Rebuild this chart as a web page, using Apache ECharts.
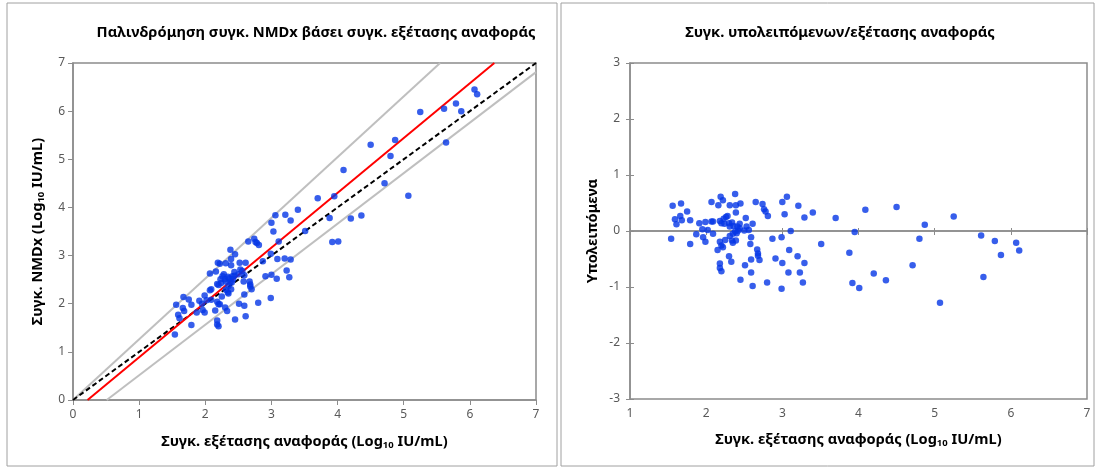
<!DOCTYPE html>
<html>
<head>
<meta charset="utf-8">
<script src="https://cdn.jsdelivr.net/npm/echarts@6/dist/echarts.min.js"></script>
<style>
html,body{margin:0;padding:0;background:#fff;}
#c{width:1096px;height:469px;}
</style>
</head>
<body>
<div id="c"></div>
<script>
// Reference assay concentration (log10 IU/mL)
const refX = [1.54,1.56,1.67,1.59,1.61,1.66,1.68,1.75,1.79,1.79,1.87,1.91,1.95,1.96,1.99,1.99,2.07,2.09,2.09,2.15,2.16,2.19,2.22,2.18,2.23,2.26,2.28,
  2.18,2.20,2.22,2.25,2.30,2.33,2.18,2.18,2.20,2.31,2.38,2.39,2.45,2.39,2.34,2.39,2.35,2.40,2.44,2.52,2.53,2.56,2.59,2.58,2.61,2.65,2.74,2.76,2.78,2.81,
  2.67,2.68,2.68,2.70,2.59,2.51,2.59,2.45,2.61,2.80,2.87,2.99,2.99,2.91,3.00,3.06,3.03,3.11,3.09,3.00,3.20,3.21,3.29,3.29,3.23,3.08,3.27,3.40,3.51,3.70,
  4.09,4.50,3.95,3.88,3.92,4.01,4.20,4.36,4.71,4.80,4.87,5.07,5.25,5.61,5.64,5.79,5.87,6.07,6.11,
  2.02,2.07,2.20,2.24,2.30,2.34,2.31,2.36,2.41,2.42,2.38,2.35,2.31,2.50,2.44];
// NMDx concentration (log10 IU/mL)
const nmdx = [1.36,1.98,2.14,1.77,1.70,1.91,1.85,2.09,1.98,1.56,1.82,2.06,2.00,1.87,2.17,1.82,2.63,2.30,2.08,1.86,2.67,2.85,2.83,2.41,2.51,2.57,2.61,
  2.04,1.99,1.99,2.15,1.92,1.85,1.65,1.57,1.53,2.84,3.12,2.93,3.03,2.80,2.24,2.30,2.21,2.44,2.58,2.85,2.71,2.68,2.59,2.46,2.85,3.29,3.35,3.28,3.26,3.22,
  2.46,2.40,2.36,2.30,2.19,2.00,1.96,1.67,1.74,2.02,2.88,3.04,2.12,2.57,3.68,3.84,3.50,3.29,2.93,2.60,2.94,3.85,3.73,2.92,2.69,2.52,2.55,3.95,3.51,4.19,
  4.78,5.30,4.23,3.78,3.28,3.29,3.77,3.83,4.50,5.07,5.40,4.24,5.98,6.05,5.35,6.16,6.00,6.45,6.35,
  2.07,2.28,2.39,2.43,2.51,2.56,2.46,2.53,2.57,2.51,2.45,2.37,2.29,2.61,2.66];
// Residuals
const residual = [-0.14,0.45,0.49,0.21,0.12,0.27,0.19,0.35,0.19,-0.23,-0.06,0.14,0.03,-0.11,0.16,-0.19,0.52,0.17,-0.05,-0.34,0.46,0.61,0.55,0.18,0.22,0.25,0.27,
  -0.19,-0.26,-0.29,-0.16,-0.45,-0.55,-0.58,-0.66,-0.72,0.46,0.66,0.46,0.49,0.33,-0.17,-0.17,-0.21,-0.04,0.05,0.23,0.08,0.02,-0.11,-0.23,0.13,0.52,0.48,0.39,0.35,0.27,
  -0.33,-0.40,-0.44,-0.52,-0.51,-0.61,-0.74,-0.87,-0.98,-0.92,-0.14,-0.11,-1.03,-0.49,0.52,0.61,0.30,0.00,-0.34,-0.57,-0.45,0.45,0.24,-0.57,-0.74,-0.74,-0.92,0.33,-0.23,0.23,
  0.38,0.43,-0.02,-0.39,-0.93,-1.02,-0.76,-0.88,-0.61,-0.14,0.11,-1.28,0.26,-0.08,-0.82,-0.18,-0.43,-0.21,-0.35,
  0.02,0.17,0.14,0.13,0.14,0.15,0.08,0.09,0.08,0.01,-0.01,-0.05,-0.09,0.01,0.13];
// Reference lines (endpoints in data units)
const identityLine = [[0,0],[7,7]];
const fitLine = [[0.22,0],[6.37,7]];
const upperBand = [[0,0],[5.55,7]];
const lowerBand = [[0.51,0],[7,6.81]];

const leftTitle = 'Παλινδρόμηση συγκ. NMDx βάσει συγκ. εξέτασης αναφοράς';
const rightTitle = 'Συγκ. υπολειπόμενων/εξέτασης αναφοράς';
const xName = 'Συγκ. εξέτασης αναφοράς (Log{sub|10} IU/mL)';
const yNameLeft = 'Συγκ. NMDx (Log{sub|10} IU/mL)';
const yNameRight = 'Υπολειπόμενα';

const FONT = 'Noto Sans';
const axisGray = '#8c8c8c';
const labelColor = '#595959';
const dotColor = '#0536e6';
const nameStyle = {
  fontFamily: FONT, fontSize: 14.6, fontWeight: 'bold', color: '#000',
  rich: { sub: { fontFamily: FONT, fontSize: 9.5, fontWeight: 'bold', color: '#000', padding: [6, 0, 0, 0] } }
};
const lbl = { fontFamily: FONT, fontSize: 12, color: labelColor };
const titleStyle = { fontFamily: FONT, fontSize: 14.7, fontWeight: 'bold', color: '#000' };

const chart = echarts.init(document.getElementById('c'), null, { renderer: 'canvas' });
chart.setOption({
  animation: false,
  backgroundColor: '#fff',
  title: [
    { text: leftTitle, left: 311, top: 20, textAlign: 'center', textStyle: titleStyle },
    { text: rightTitle, left: 835, top: 20, textAlign: 'center', textStyle: titleStyle }
  ],
  graphic: [
    { type: 'rect', shape: { x: 7, y: 3, width: 550, height: 463 }, style: { fill: 'none', stroke: '#a0a0a0', lineWidth: 1 } },
    { type: 'rect', shape: { x: 561, y: 3, width: 533, height: 463 }, style: { fill: 'none', stroke: '#a0a0a0', lineWidth: 1 } }
  ],
  grid: [
    { left: 73, right: 560, top: 63, bottom: 69, show: true, borderColor: axisGray, borderWidth: 1.5, backgroundColor: '#fff' },
    { left: 630, right: 9, top: 63, bottom: 70, show: true, borderColor: axisGray, borderWidth: 1.5, backgroundColor: '#fff' }
  ],
  xAxis: [
    { gridIndex: 0, type: 'value', min: 0, max: 7, interval: 1, splitLine: { show: false },
      axisLine: { show: true, onZero: false, lineStyle: { color: axisGray, width: 1.5 } },
      axisTick: { show: true, length: 5, lineStyle: { color: axisGray } },
      axisLabel: Object.assign({ margin: 9 }, lbl),
      name: xName, nameLocation: 'middle', nameGap: 34, nameTextStyle: nameStyle },
    { gridIndex: 1, type: 'value', min: 1, max: 7, interval: 1, splitLine: { show: false },
      axisLine: { show: false, onZero: false }, axisTick: { show: false },
      axisLabel: Object.assign({ margin: 9 }, lbl),
      name: xName, nameLocation: 'middle', nameGap: 33, nameTextStyle: nameStyle },
    { gridIndex: 1, type: 'value', min: 1, max: 7, interval: 1, position: 'bottom', splitLine: { show: false },
      axisLine: { show: true, onZero: true, lineStyle: { color: axisGray, width: 1.5 } },
      axisTick: { show: true, length: 4, lineStyle: { color: axisGray } }, axisLabel: { show: false } },
    { gridIndex: 1, type: 'value', min: 1, max: 7, interval: 1, position: 'top', splitLine: { show: false },
      axisLine: { show: true, onZero: true, lineStyle: { color: axisGray, width: 1.5 } },
      axisTick: { show: true, length: 3, lineStyle: { color: axisGray } }, axisLabel: { show: false } }
  ],
  yAxis: [
    { gridIndex: 0, type: 'value', min: 0, max: 7, interval: 1, splitLine: { show: false },
      axisLine: { show: true, onZero: false, lineStyle: { color: axisGray, width: 1.5 } },
      axisTick: { show: true, length: 5, lineStyle: { color: axisGray } },
      axisLabel: Object.assign({ margin: 8 }, lbl),
      name: yNameLeft, nameLocation: 'middle', nameGap: 27, nameRotate: 90, nameTextStyle: nameStyle },
    { gridIndex: 1, type: 'value', min: -3, max: 3, interval: 1, splitLine: { show: false },
      axisLine: { show: true, onZero: false, lineStyle: { color: axisGray, width: 1.5 } },
      axisTick: { show: true, length: 4, lineStyle: { color: axisGray } },
      axisLabel: Object.assign({ margin: 10 }, lbl),
      name: yNameRight, nameLocation: 'middle', nameGap: 30, nameRotate: 90, nameTextStyle: nameStyle },
    { gridIndex: 1, type: 'value', min: -3, max: 3, interval: 1, position: 'left', splitLine: { show: false },
      axisLine: { show: false, onZero: false },
      axisTick: { show: true, inside: true, length: 4, lineStyle: { color: axisGray } }, axisLabel: { show: false } }
  ],
  series: [
    { type: 'line', xAxisIndex: 0, yAxisIndex: 0, data: upperBand, symbol: 'none', lineStyle: { color: '#bfbfbf', width: 2 }, z: 2 },
    { type: 'line', xAxisIndex: 0, yAxisIndex: 0, data: lowerBand, symbol: 'none', lineStyle: { color: '#bfbfbf', width: 2 }, z: 2 },
    { type: 'line', xAxisIndex: 0, yAxisIndex: 0, data: identityLine, symbol: 'none', lineStyle: { color: '#000', width: 2, type: [5, 3] }, z: 3 },
    { type: 'line', xAxisIndex: 0, yAxisIndex: 0, data: fitLine, symbol: 'none', lineStyle: { color: '#ff0000', width: 2 }, z: 3 },
    { type: 'scatter', xAxisIndex: 0, yAxisIndex: 0, data: refX.map((x, i) => [x, nmdx[i]]), symbol: 'circle', symbolSize: 6.5,
      itemStyle: { color: dotColor }, z: 4 },
    { type: 'scatter', xAxisIndex: 1, yAxisIndex: 1, data: refX.map((x, i) => [x, residual[i]]), symbol: 'circle', symbolSize: 6.5,
      itemStyle: { color: dotColor }, z: 4 }
  ]
});
</script>
</body>
</html>
